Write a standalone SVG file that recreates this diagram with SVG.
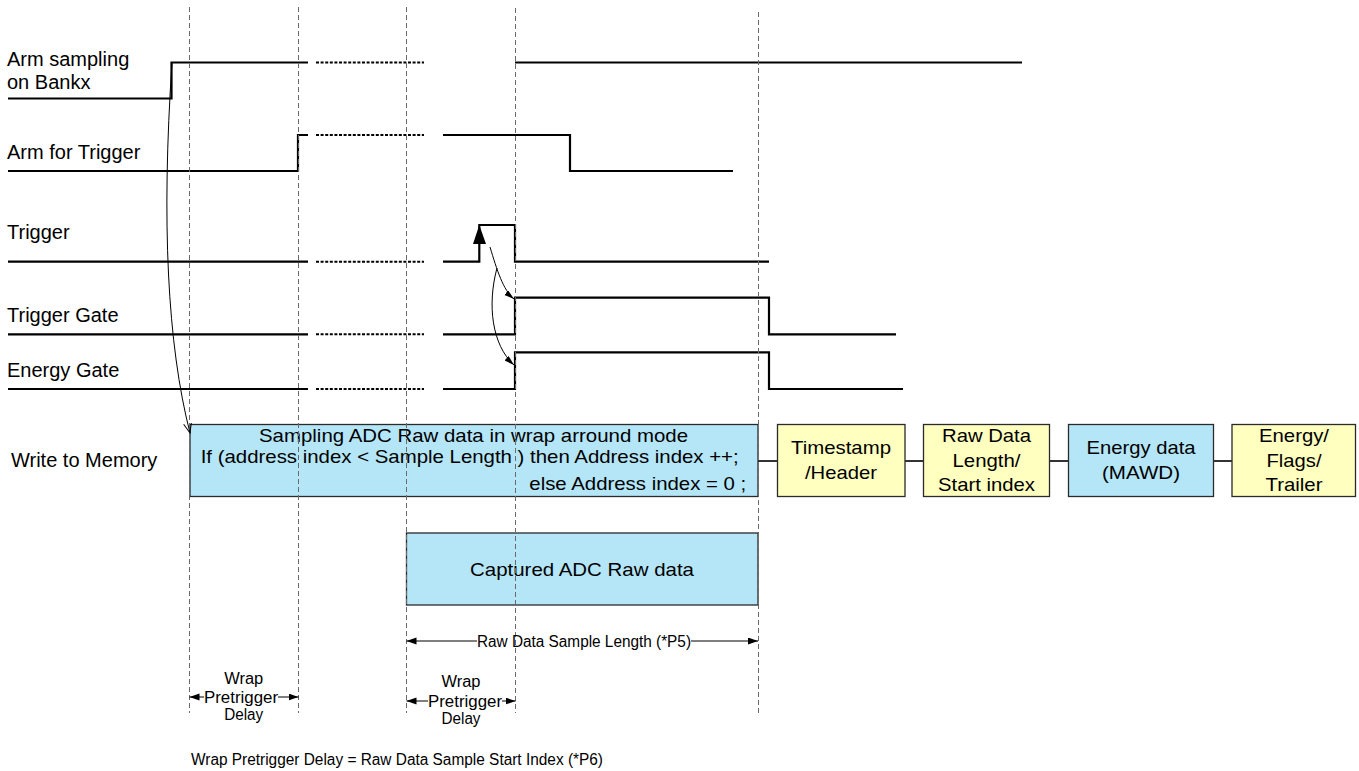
<svg xmlns="http://www.w3.org/2000/svg" width="1359" height="771" viewBox="0 0 1359 771">
<defs>
<style>
text{font-family:"Liberation Sans",Arial,sans-serif;fill:#000}
.lbl{font-size:20px}
.bt{font-size:18.5px}
.sm{font-size:16px}
.sig{fill:none;stroke:#000;stroke-width:2.2;stroke-linejoin:miter;stroke-linecap:butt}
.dot{fill:none;stroke:#000;stroke-width:2;stroke-dasharray:3 1.6}
.guide{fill:none;stroke:#6b6b6b;stroke-width:1;stroke-dasharray:5 3}
.blue{fill:#B5E6F8;stroke:#2a2a2a;stroke-width:1.3}
.yel{fill:#FFFFC0;stroke:#2a2a2a;stroke-width:1.3}
.link{fill:none;stroke:#333;stroke-width:2}
.thin{fill:none;stroke:#000;stroke-width:1}
</style>
<marker id="open" markerUnits="userSpaceOnUse" markerWidth="12" markerHeight="10" refX="10" refY="4" orient="auto"><path d="M0,0 L10,4 L0,8" fill="none" stroke="#000" stroke-width="1"/></marker>
<marker id="fillsm" markerUnits="userSpaceOnUse" markerWidth="11" markerHeight="7" refX="10" refY="3" orient="auto"><path d="M0,0 L10,3 L0,6 Z" fill="#000"/></marker>
<marker id="dim" markerUnits="userSpaceOnUse" markerWidth="11" markerHeight="8" refX="10" refY="3.5" orient="auto"><path d="M0,0 L10,3.5 L0,7 Z" fill="#000"/></marker>
</defs>
<rect width="1359" height="771" fill="#fff"/>

<g id="labels">
<text class="lbl" x="7" y="65.5">Arm sampling</text>
<text class="lbl" x="7" y="88.5">on Bankx</text>
<text class="lbl" x="7" y="159.3">Arm for Trigger</text>
<text class="lbl" x="7" y="239.3">Trigger</text>
<text class="lbl" x="7" y="322.3">Trigger Gate</text>
<text class="lbl" x="7" y="376.7">Energy Gate</text>
<text class="lbl" x="11" y="467">Write to Memory</text>
</g>

<g id="sig-arm-sampling">
<path class="sig" d="M8,98.5 H171.5 V62.5 H308"/>
<path class="dot" d="M316,62.5 H424"/>
<path class="sig" d="M515,62.5 H1022"/>
</g>
<g id="sig-arm-trigger">
<path class="sig" d="M8,171 H298 V135 H308"/>
<path class="dot" d="M316,135 H424"/>
<path class="sig" d="M443,135 H570 V171 H733"/>
</g>
<g id="sig-trigger">
<path class="sig" d="M8,261.7 H308"/>
<path class="dot" d="M316,261.7 H424"/>
<path class="sig" d="M443,261.7 H479.3 V225 H515 V261.7 H769"/>
<polygon points="473,244 479.3,225 486,244" fill="#000"/>
</g>
<g id="sig-trigger-gate">
<path class="sig" d="M8,334.3 H308"/>
<path class="dot" d="M316,334.3 H424"/>
<path class="sig" d="M443,334.3 H515 V297.7 H769 V334.3 H896"/>
</g>
<g id="sig-energy-gate">
<path class="sig" d="M8,389 H308"/>
<path class="dot" d="M316,389 H424"/>
<path class="sig" d="M443,389 H515 V352.3 H769 V389 H903"/>
</g>

<g id="box-wrap">
<rect class="blue" x="190" y="424.5" width="568" height="72"/>
<text class="bt" x="259" y="442.3" textLength="429" lengthAdjust="spacingAndGlyphs">Sampling ADC Raw data in wrap arround mode</text>
<text class="bt" x="200.7" y="462.8" textLength="538" lengthAdjust="spacingAndGlyphs">If (address index &lt; Sample Length ) then Address index ++;</text>
<text class="bt" x="529.3" y="490.3" textLength="217" lengthAdjust="spacingAndGlyphs">else Address index = 0 ;</text>
</g>
<g id="box-timestamp">
<rect class="yel" x="777.5" y="424.5" width="127.5" height="72"/>
<text class="bt" x="841" y="454.3" text-anchor="middle" textLength="100" lengthAdjust="spacingAndGlyphs">Timestamp</text>
<text class="bt" x="841" y="478.5" text-anchor="middle" textLength="72" lengthAdjust="spacingAndGlyphs">/Header</text>
</g>
<g id="box-rawlen">
<rect class="yel" x="923.5" y="424.5" width="126" height="72"/>
<text class="bt" x="986.5" y="441.7" text-anchor="middle" textLength="89" lengthAdjust="spacingAndGlyphs">Raw Data</text>
<text class="bt" x="986.5" y="466.5" text-anchor="middle" textLength="68" lengthAdjust="spacingAndGlyphs">Length/</text>
<text class="bt" x="986.5" y="490.7" text-anchor="middle" textLength="97" lengthAdjust="spacingAndGlyphs">Start index</text>
</g>
<g id="box-energy">
<rect class="blue" x="1068.5" y="424.5" width="145" height="72"/>
<text class="bt" x="1141" y="454.3" text-anchor="middle" textLength="109" lengthAdjust="spacingAndGlyphs">Energy data</text>
<text class="bt" x="1141" y="478.5" text-anchor="middle" textLength="78" lengthAdjust="spacingAndGlyphs">(MAWD)</text>
</g>
<g id="box-trailer">
<rect class="yel" x="1232" y="424.5" width="123.5" height="72"/>
<text class="bt" x="1294" y="441.7" text-anchor="middle" textLength="70" lengthAdjust="spacingAndGlyphs">Energy/</text>
<text class="bt" x="1294" y="466.5" text-anchor="middle" textLength="55" lengthAdjust="spacingAndGlyphs">Flags/</text>
<text class="bt" x="1294" y="490.7" text-anchor="middle" textLength="57" lengthAdjust="spacingAndGlyphs">Trailer</text>
</g>
<g id="box-captured">
<rect class="blue" x="406.5" y="533" width="351.5" height="72"/>
<text class="bt" x="582" y="575.8" text-anchor="middle" textLength="224" lengthAdjust="spacingAndGlyphs">Captured ADC Raw data</text>
</g>

<g id="guides">
<path class="guide" d="M189.5,7 V713"/>
<path class="guide" d="M298.5,7 V713"/>
<path class="guide" d="M406.5,7 V713"/>
<path class="guide" d="M515.5,8 V713"/>
<path class="guide" d="M758.5,12 V716"/>
</g>

<g id="connectors">
<path class="link" d="M758,461 H777.5 M905,461 H923.5 M1049.5,461 H1068.5 M1213.5,461 H1232"/>
<path class="thin" d="M172,63 Q156,300 190,433" marker-end="url(#open)"/>
<path class="thin" d="M490,247 C497,270 503,290 514,299" marker-end="url(#fillsm)"/>
<path class="thin" d="M497,268 C487,305 492,345 514,365" marker-end="url(#fillsm)"/>
</g>

<g id="dim-rawlen">
<path class="thin" d="M477,641 H406.5" marker-end="url(#dim)"/>
<path class="thin" d="M691,641 H758" marker-end="url(#dim)"/>
<text class="sm" x="477" y="646.5" textLength="214" lengthAdjust="spacingAndGlyphs">Raw Data Sample Length (*P5)</text>
</g>
<g id="dim-wrap1">
<path class="thin" d="M204,697 H189.5" marker-end="url(#dim)"/>
<path class="thin" d="M278,697 H298.5" marker-end="url(#dim)"/>
<text class="sm" x="243.7" y="683.5" text-anchor="middle" textLength="39" lengthAdjust="spacingAndGlyphs">Wrap</text>
<text class="sm" x="204" y="702.5" textLength="74" lengthAdjust="spacingAndGlyphs">Pretrigger</text>
<text class="sm" x="243.7" y="719.5" text-anchor="middle" textLength="39" lengthAdjust="spacingAndGlyphs">Delay</text>
</g>
<g id="dim-wrap2">
<path class="thin" d="M428,701 H406.5" marker-end="url(#dim)"/>
<path class="thin" d="M502,701 H515.5" marker-end="url(#dim)"/>
<text class="sm" x="461" y="687" text-anchor="middle" textLength="39" lengthAdjust="spacingAndGlyphs">Wrap</text>
<text class="sm" x="428" y="706.5" textLength="74" lengthAdjust="spacingAndGlyphs">Pretrigger</text>
<text class="sm" x="461" y="723.5" text-anchor="middle" textLength="39" lengthAdjust="spacingAndGlyphs">Delay</text>
</g>
<g id="note">
<text class="sm" x="191" y="764.5" textLength="412" lengthAdjust="spacingAndGlyphs">Wrap Pretrigger Delay = Raw Data Sample Start Index (*P6)</text>
</g>
</svg>
